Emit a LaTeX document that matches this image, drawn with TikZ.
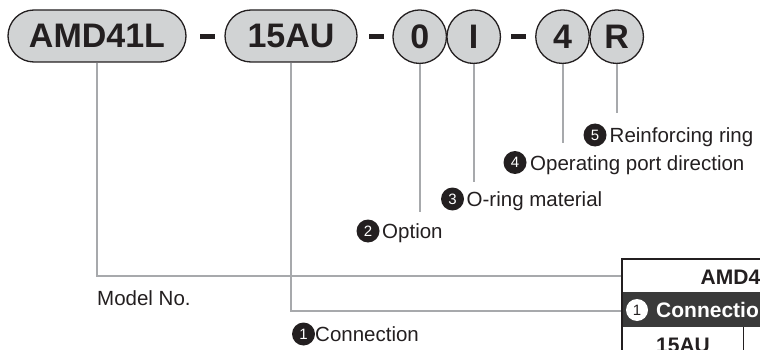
\documentclass[tikz,border=0pt]{standalone}
\usepackage{fontspec}
\setmainfont{Liberation Sans}
\definecolor{ink}{HTML}{231F20}
\definecolor{pillgray}{HTML}{D1D3D4}
\definecolor{linegray}{HTML}{A7A9AC}
\definecolor{tabdark}{HTML}{3A3A3A}
\begin{document}
\begin{tikzpicture}[x=1pt,y=-1pt,
  pill/.style={draw=ink,line width=1.3pt,fill=pillgray,rounded corners=26pt,minimum height=52pt,inner sep=0pt,font=\fontsize{34}{34}\selectfont\bfseries,text=ink},
  code/.style={circle,draw=ink,line width=1.3pt,fill=pillgray,minimum size=53.5pt,inner sep=0pt,font=\fontsize{34}{34}\selectfont\bfseries,text=ink},
  dashbar/.style={fill=ink,minimum width=15pt,minimum height=5pt,inner sep=0pt},
  conn/.style={draw=linegray,line width=2pt},
  num/.style={circle,fill=ink,minimum size=23pt,inner sep=0pt,font=\fontsize{15}{15}\selectfont,text=white},
  lbl/.style={anchor=base west,font=\fontsize{20.5}{20.5}\selectfont,text=ink,inner sep=0pt},
  tabtxt/.style={anchor=base west,font=\fontsize{21}{21}\selectfont\bfseries,inner sep=0pt},
]
\useasboundingbox (0,0) rectangle (760,350);
\clip (0,0) rectangle (760,350);

% code parts
\node[pill,minimum width=178pt] (p1) at (97,36) {AMD41L};
\node[dashbar] (d1) at (207.5,36.5) {};
\node[pill,minimum width=132pt] (p2) at (291,36) {15AU};
\node[dashbar] (d2) at (376.5,36.5) {};
\node[code] (c0) at (419.7,36.7) {0};
\node[code] (cI) at (473.7,36.7) {I};
\node[dashbar] (d3) at (518,36.5) {};
\node[code] (c4) at (562.5,36.7) {4};
\node[code] (cR) at (616.7,36.7) {R};

% labels
\node[num] (n5) at (595,135) {5};
\node[lbl] (t5) at (609.5,142.5) {Reinforcing ring};
\node[num] (n4) at (515,162.5) {4};
\node[lbl] (t4) at (530,170) {Operating port direction};
\node[num] (n3) at (452.5,199) {3};
\node[lbl] (t3) at (466.5,206.5) {O-ring material};
\node[num] (n2) at (368,231) {2};
\node[lbl] (t2) at (382,238.5) {Option};
\node[num] (n1) at (303.5,334) {1};
\node[lbl] (t1) at (315,341.5) {Connection};
\node[lbl] (tm) at (97,305) {Model No.};

% connector ends
\coordinate (eR) at (617,113);
\coordinate (e4) at (562.5,143);
\coordinate (eI) at (474,182);
\coordinate (e0) at (420,212);
\coordinate (tA) at (622,276);
\coordinate (tB) at (622,311);

\draw[conn] (cR.south) -- (cR.south |- eR);
\draw[conn] (c4.south) -- (c4.south |- e4);
\draw[conn] (cI.south) -- (cI.south |- eI);
\draw[conn] (c0.south) -- (c0.south |- e0);
\draw[conn] (p1.south) |- (tA);
\draw[conn] (p2.south) |- (tB);

% table (partly visible)
\fill[white] (622,259) rectangle (770,360);
\fill[tabdark] (622,292) rectangle (770,327);
\draw[ink,line width=0.8pt] (743,327) -- (743,360);
\draw[ink,line width=1.5pt] (622,360) -- (622,259) -- (770,259);
\node[tabtxt,text=ink] (h1) at (700.5,284) {AMD41L};
\node[circle,fill=white,minimum size=22pt,inner sep=0pt,font=\fontsize{15}{15}\selectfont,text=ink] (h2n) at (637,310) {1};
\node[tabtxt,text=white] (h2) at (656,317.5) {Connection};
\node[tabtxt,text=ink] (h3) at (656,352) {15AU};
\end{tikzpicture}
\end{document}
